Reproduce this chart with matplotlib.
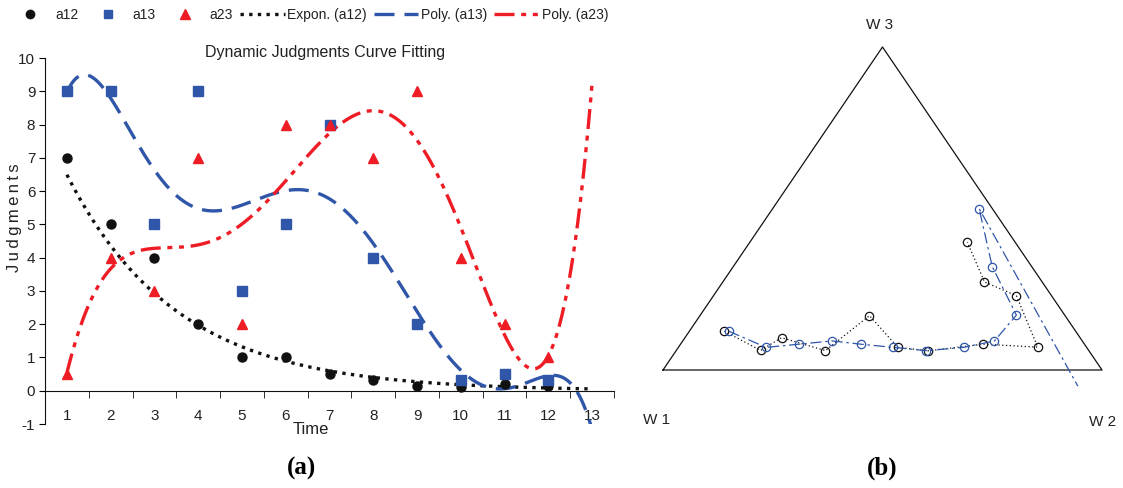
# Dynamic judgments: (a) curve fitting of pairwise judgments, (b) ternary weight paths
import numpy as np
import matplotlib
matplotlib.use("Agg")
import matplotlib.pyplot as plt
from matplotlib.lines import Line2D

plt.rcParams["font.family"] = ["Liberation Sans", "DejaVu Sans"]
plt.rcParams["axes.unicode_minus"] = False

# ---------- data ----------
time = [1, 2, 3, 4, 5, 6, 7, 8, 9, 10, 11, 12]
a12 = [7, 5, 4, 2, 1, 1, 0.5, 0.33, 0.14, 0.12, 0.2, 0.14]
a13 = [9, 9, 5, 9, 3, 5, 8, 4, 2, 0.33, 0.5, 0.33]
a23 = [0.5, 4, 3, 7, 2, 8, 8, 7, 9, 4, 2, 1]
time_ticks = list(range(1, 14))
judg_ticks = list(range(-1, 11))

# ternary weights (w1, w2, w3): observed judgments (black) and fitted curves (blue)
obs_w1 = [0.80, 0.74, 0.68, 0.60, 0.45, 0.43, 0.37, 0.23, 0.11, 0.08, 0.13, 0.11]
obs_w2 = [0.08, 0.19, 0.22, 0.34, 0.39, 0.50, 0.58, 0.69, 0.81, 0.69, 0.59, 0.50]
obs_w3 = [0.12, 0.06, 0.10, 0.06, 0.17, 0.07, 0.06, 0.08, 0.07, 0.23, 0.27, 0.40]
fit_w1 = [0.79, 0.73, 0.65, 0.57, 0.51, 0.44, 0.37, 0.28, 0.20, 0.11, 0.09, 0.03, 0.08]
fit_w2 = [0.09, 0.20, 0.27, 0.34, 0.41, 0.49, 0.57, 0.65, 0.71, 0.72, 0.59, 0.47, 0.97]
fit_w3 = [0.12, 0.07, 0.08, 0.09, 0.08, 0.07, 0.06, 0.07, 0.09, 0.17, 0.32, 0.50, -0.05]

BLACK = "#111111"
BLUE = "#2f56a8"
RED = "#ee1c25"
TXT = "#222222"

W, H = 1123, 488
fig = plt.figure(figsize=(W / 100, H / 100), dpi=100)


def px(x, y):
    """pixel position -> figure fraction"""
    return x / W, 1 - y / H


# ---------- (a) curve fitting ----------
ax = fig.add_axes([45 / W, 64 / H, 569 / W, 366 / H])
ax.set_xlim(0.5, 13.5)
ax.set_ylim(-1, 10)

t = np.array(time, dtype=float)
xfit = np.linspace(1, 13, 400)
b, lna = np.polyfit(t, np.log(a12), 1)
exp_fit = np.exp(lna) * np.exp(b * xfit)
p13 = np.polyval(np.polyfit(t, a13, 6), xfit)
p23 = np.polyval(np.polyfit(t, a23, 6), xfit)

EXP_DASH = (1.0, 1.6)
P13_DASH = (6, 3)
P23_DASH = (6, 2, 1.5, 2, 1.5, 2)

ax.plot(xfit, exp_fit, color=BLACK, lw=2.4, dashes=EXP_DASH, dash_capstyle="butt")
ax.plot(xfit, p13, color=BLUE, lw=2.4, dashes=P13_DASH, dash_capstyle="butt")
ax.plot(xfit, p23, color=RED, lw=2.4, dashes=P23_DASH, dash_capstyle="butt")

ax.plot(time, a12, "o", color=BLACK, ms=6.5, ls="none")
ax.plot(time, a13, "s", color=BLUE, ms=6.5, ls="none")
ax.plot(time, a23, "^", color=RED, ms=7.5, ls="none")

for s in ("top", "right"):
    ax.spines[s].set_visible(False)
ax.spines["bottom"].set_position(("data", 0))
ax.spines["left"].set_color(BLACK)
ax.spines["bottom"].set_color(BLACK)

ax.set_xticks(time_ticks)
ax.set_xticks(np.arange(0.5, 13.6, 1), minor=True)
ax.tick_params(axis="x", which="major", length=0, pad=13, labelsize=11, labelcolor=TXT)
ax.tick_params(axis="x", which="minor", length=5, direction="out", color=BLACK)
ax.set_yticks(judg_ticks)
ax.tick_params(axis="y", length=4, direction="out", pad=3, labelsize=11, labelcolor=TXT)

fig.text(*px(325, 52), "Dynamic Judgments Curve Fitting", ha="center", va="center",
         fontsize=11.5, color=TXT)
fig.text(*px(311, 429), "Time", ha="center", va="center", fontsize=12, color=TXT)
fig.text(*px(15, 218), "J\u2009u\u2009d\u2009g\u2009m\u2009e\u2009n\u2009t\u2009s", ha="center",
         va="center", rotation=90, fontsize=12, color=TXT,
         family=["Liberation Sans", "DejaVu Sans"])

handles = [
    Line2D([], [], marker="o", color=BLACK, ls="none", ms=6),
    Line2D([], [], marker="s", color=BLUE, ls="none", ms=6),
    Line2D([], [], marker="^", color=RED, ls="none", ms=7),
    Line2D([], [], color=BLACK, lw=2.4, dashes=EXP_DASH, dash_capstyle="butt"),
    Line2D([], [], color=BLUE, lw=2.4, dashes=P13_DASH, dash_capstyle="butt"),
    Line2D([], [], color=RED, lw=2.4, dashes=P23_DASH, dash_capstyle="butt"),
]
labels = ["a12", "a13", "a23", "Expon. (a12)", "Poly. (a13)", "Poly. (a23)"]
fig.legend(handles, labels, loc="center", bbox_to_anchor=px(308, 15), ncol=6,
           frameon=False, fontsize=10, handlelength=3.2, handletextpad=0.2,
           columnspacing=0.5, borderpad=0, labelcolor=TXT)

# ---------- (b) ternary paths ----------
tx = fig.add_axes([663 / W, (H - 370) / H, 439 / W, 323 / H])
tx.set_xlim(0, 1)
tx.set_ylim(0, 1)
tx.axis("off")


def tern(w1, w2, w3):
    w1, w2, w3 = map(np.asarray, (w1, w2, w3))
    tot = w1 + w2 + w3
    return (w2 + 0.5 * w3) / tot, w3 / tot


tx.plot([0, 1, 0.5, 0], [0, 0, 1, 0], color=BLACK, lw=0.9, clip_on=False)

ox, oy = tern(obs_w1, obs_w2, obs_w3)
tx.plot(ox, oy, color=BLACK, lw=0.9, ls=(0, (1, 2)), clip_on=False)
tx.plot(ox, oy, "o", mfc="none", mec=BLACK, ms=6, mew=0.9, clip_on=False)

fx, fy = tern(fit_w1, fit_w2, fit_w3)
tx.plot(fx, fy, color=BLUE, lw=0.9, ls=(0, (9, 3, 2, 3)), clip_on=False)
tx.plot(fx[:-1], fy[:-1], "o", mfc="none", mec=BLUE, ms=6, mew=0.9, clip_on=False)

for lbl, (x, y) in {"W 3": (880, 25), "W 1": (657, 420), "W 2": (1103, 422)}.items():
    fig.text(*px(x, y), lbl, ha="center", va="center", fontsize=11, color=TXT)

# panel captions
fig.text(*px(302, 468), "(a)", ha="center", va="center", fontsize=18, fontweight="bold",
         family=["Liberation Serif", "DejaVu Serif"])
fig.text(*px(882, 468), "(b)", ha="center", va="center", fontsize=18, fontweight="bold",
         family=["Liberation Serif", "DejaVu Serif"])

fig.savefig("out.png", dpi=100)
